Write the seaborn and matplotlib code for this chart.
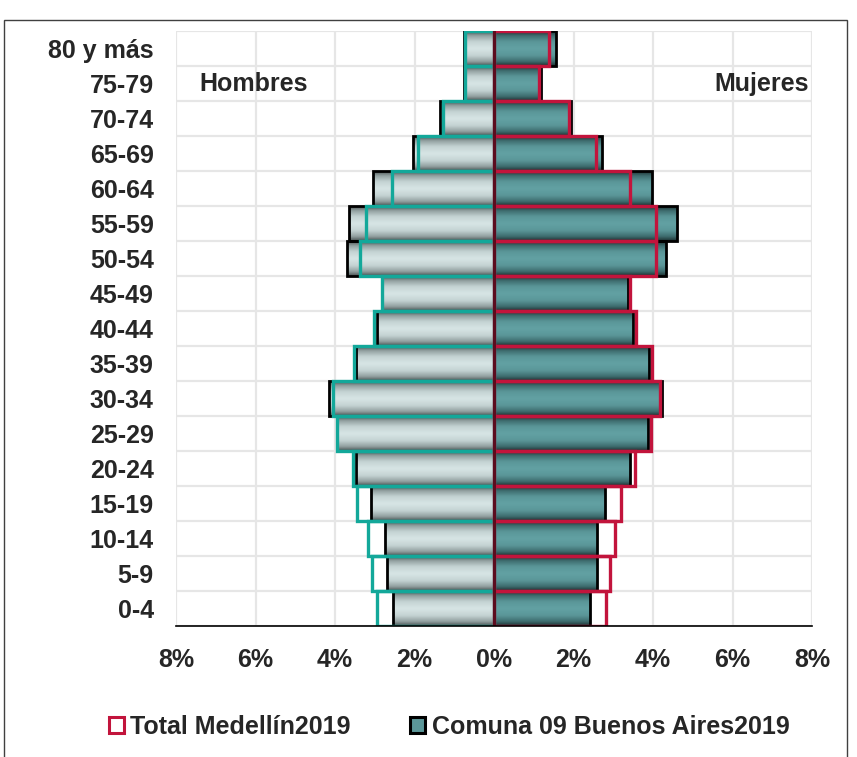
import numpy as np
import matplotlib
matplotlib.use("Agg")
import matplotlib.pyplot as plt
import seaborn as sns
from matplotlib.colors import LinearSegmentedColormap
from matplotlib.patches import Patch, Rectangle

categorias = ["80 y más", "75-79", "70-74", "65-69", "60-64", "55-59", "50-54",
              "45-49", "40-44", "35-39", "30-34", "25-29", "20-24", "15-19",
              "10-14", "5-9", "0-4"]
hombres_comuna = [0.75, 0.75, 1.36, 2.05, 3.04, 3.64, 3.69, 2.82, 2.95, 3.48,
                  4.15, 3.95, 3.48, 3.10, 2.75, 2.70, 2.54]
hombres_medellin = [0.72, 0.72, 1.28, 1.90, 2.56, 3.21, 3.36, 2.83, 3.01, 3.52,
                    4.05, 3.96, 3.54, 3.44, 3.18, 3.06, 2.94]
mujeres_comuna = [1.56, 1.18, 1.94, 2.71, 3.97, 4.60, 4.32, 3.37, 3.49, 3.90,
                  4.22, 3.87, 3.41, 2.80, 2.60, 2.59, 2.42]
mujeres_medellin = [1.39, 1.14, 1.88, 2.57, 3.41, 4.08, 4.08, 3.43, 3.57, 3.97,
                    4.18, 3.95, 3.55, 3.19, 3.04, 2.92, 2.81]
ticks = [-8, -6, -4, -2, 0, 2, 4, 6, 8]
tick_labels = ["8%", "6%", "4%", "2%", "0%", "2%", "4%", "6%", "8%"]
leyenda = ["Total Medellín2019", "Comuna 09 Buenos Aires2019"]

sns.set_style("white")
plt.rcParams["font.family"] = ["Liberation Sans", "DejaVu Sans"]
plt.rcParams["font.weight"] = "bold"

FS = 18
TEAL_LINE = "#13a89a"
RED_LINE = "#c2143c"
GRAY_FACE = "#c9d8d8"
TEAL_FACE = "#5b9799"

fig = plt.figure(figsize=(8.57, 7.57), dpi=100)
ax = fig.add_axes([176 / 857, 1 - 626 / 757, (812 - 176) / 857, (626 - 31) / 757])

hc = -np.array(hombres_comuna)
hm = -np.array(hombres_medellin)
mc = np.array(mujeres_comuna)
mm = np.array(mujeres_medellin)

# Comuna bars (base fill)
sns.barplot(x=hc, y=categorias, order=categorias, orient="h", color=GRAY_FACE,
            width=1.0, linewidth=0, saturation=1, ax=ax, zorder=2)
sns.barplot(x=mc, y=categorias, order=categorias, orient="h", color=TEAL_FACE,
            width=1.0, linewidth=0, saturation=1, ax=ax, zorder=2)

# gradient shading over each Comuna bar
t = np.linspace(0, 1, 64)
prof = np.abs(2 * t - 1) ** 1.15
grad = prof.reshape(-1, 1)
cmap_gray = LinearSegmentedColormap.from_list(
    "g", [(0, "#d6e4e4"), (0.35, "#c4d3d3"), (0.7, "#94a2a2"), (1, "#4c5656")])
cmap_teal = LinearSegmentedColormap.from_list(
    "t", [(0, "#62a1a3"), (0.35, "#5a9698"), (0.7, "#3f6e70"), (1, "#1d3233")])
for i, v in enumerate(hc):
    ax.imshow(grad, extent=[v, 0, i + 0.5, i - 0.5], aspect="auto", cmap=cmap_gray,
              vmin=0, vmax=1, zorder=2.1, interpolation="bilinear")
for i, v in enumerate(mc):
    ax.imshow(grad, extent=[0, v, i + 0.5, i - 0.5], aspect="auto", cmap=cmap_teal,
              vmin=0, vmax=1, zorder=2.1, interpolation="bilinear")

# Comuna outlines
sns.barplot(x=hc, y=categorias, order=categorias, orient="h", color="black",
            fill=False, width=1.0, linewidth=2.0, saturation=1, ax=ax, zorder=2.2)
sns.barplot(x=mc, y=categorias, order=categorias, orient="h", color="black",
            fill=False, width=1.0, linewidth=2.0, saturation=1, ax=ax, zorder=2.2)
# Medellín outlines
sns.barplot(x=hm, y=categorias, order=categorias, orient="h", color=TEAL_LINE,
            fill=False, width=1.0, linewidth=2.4, saturation=1, ax=ax, zorder=2.3)
sns.barplot(x=mm, y=categorias, order=categorias, orient="h", color=RED_LINE,
            fill=False, width=1.0, linewidth=2.4, saturation=1, ax=ax, zorder=2.3)

ax.axvline(0, color="#5c0c1e", linewidth=2.2, zorder=2.5)

n = len(categorias)
ax.set_xlim(-8, 8)
ax.set_ylim(n - 0.5, -0.5)
ax.set_aspect("auto")

# grid
for v in ticks:
    ax.axvline(v, color="#e6e6e6", linewidth=1.6, zorder=0.5)
for k in range(n + 1):
    ax.axhline(k - 0.5, color="#e6e6e6", linewidth=1.6, zorder=0.5)

ax.set_xticks(ticks)
ax.set_xticklabels(tick_labels, fontsize=FS, fontweight="bold")
ax.tick_params(axis="x", direction="out", length=7, width=1, color="black", pad=9)
ax.tick_params(axis="y", length=0, pad=16, labelsize=FS)
for lab in ax.get_yticklabels():
    lab.set_fontweight("bold")
ax.set_xlabel("")
ax.set_ylabel("")
for s in ["top", "left", "right"]:
    ax.spines[s].set_visible(False)
ax.spines["bottom"].set_color("black")
ax.spines["bottom"].set_linewidth(1.2)
ax.spines["bottom"].set_zorder(3)

ax.text(-7.4, 1, "Hombres", ha="left", va="center", fontsize=FS, fontweight="bold", zorder=4)
ax.text(7.93, 1, "Mujeres", ha="right", va="center", fontsize=FS, fontweight="bold", zorder=4)

handles = [Patch(facecolor="white", edgecolor=RED_LINE, linewidth=2.2),
           Patch(facecolor=TEAL_FACE, edgecolor="black", linewidth=2.2)]
fig.legend(handles, leyenda, loc="center", bbox_to_anchor=(449 / 857, 1 - 727 / 757),
           ncol=2, frameon=False, handlelength=0.6, handleheight=0.6,
           handletextpad=0.25, columnspacing=2.4, prop={"weight": "bold", "size": FS})

fig.patches.append(Rectangle((3.5 / 857, -0.02), (847 - 3.5) / 857, 1.02 - 20 / 757,
                             transform=fig.transFigure, fill=False, edgecolor="#404040",
                             linewidth=1.0))

fig.savefig("out.png", dpi=100)
